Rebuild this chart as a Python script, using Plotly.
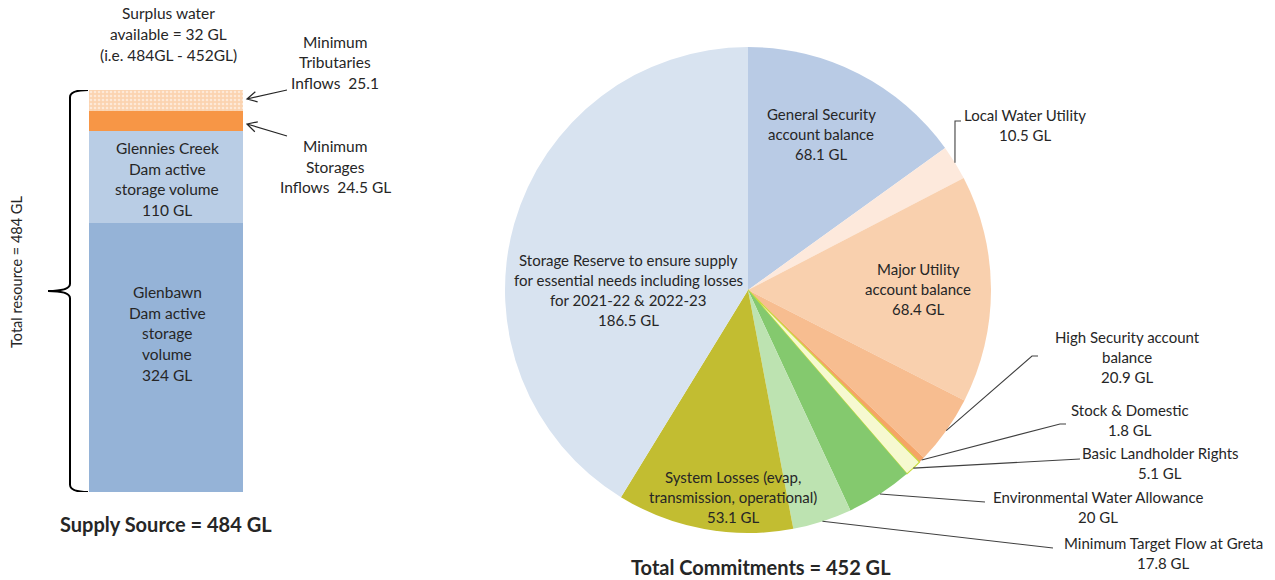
import math
import plotly.graph_objects as go

W, H = 1275, 580
FONT = "Lato"
TXT = "#262626"

# ---------------- data ----------------
supply_names = ["Glenbawn Dam active storage volume",
                "Glennies Creek Dam active storage volume",
                "Minimum Storages Inflows",
                "Minimum Tributaries Inflows"]
supply_values = [324, 110, 24.5, 25.1]
supply_total = 484
commit_total = 452

commit_labels = ["General Security account balance", "Local Water Utility",
                 "Major Utility account balance", "High Security account balance",
                 "Stock & Domestic", "Basic Landholder Rights",
                 "Environmental Water Allowance", "Minimum Target Flow at Greta",
                 "System Losses (evap, transmission, operational)",
                 "Storage Reserve to ensure supply for essential needs including losses for 2021-22 & 2022-23"]
commit_values = [68.1, 10.5, 68.4, 20.9, 1.8, 5.1, 20, 17.8, 53.1, 186.5]

# ---------------- styles ----------------
supply_colors = ["#95b3d7", "#b9cde5", "#f79646", "#fbd3b0"]
commit_colors = ["#b9cbe5", "#fde9dc", "#f9d0ae", "#f7bd90", "#f5a466",
                 "#f6f9d0", "#84c96e", "#bde3b1", "#c2bd31", "#d8e3f0"]

def px(x):
    return x / W

def py(y):
    return 1 - y / H

fig = go.Figure()

# ---------------- stacked supply bar ----------------
bar_top_px, bar_bot_px = 90, 492
bar_left_px, bar_right_px = 89, 243
for i, (n, v, c) in enumerate(zip(supply_names, supply_values, supply_colors)):
    marker = dict(color=c, line=dict(width=0))
    if i == 3:
        marker["pattern"] = dict(shape=".", bgcolor="#fbd3b0", fgcolor="#ffffff",
                                 size=4, solidity=0.35)
    fig.add_trace(go.Bar(x=[0], y=[v], name=n, marker=marker, width=1,
                         showlegend=False, hoverinfo="name+y",
                         xaxis="x", yaxis="y"))

sum_supply = sum(supply_values)

# ---------------- pie ----------------
pc_x, pc_y, pr = 748, 290, 243
line_w = [1.2 if l == "Basic Landholder Rights" else 0 for l in commit_labels]
line_c = ["#c8dc3c" if l == "Basic Landholder Rights" else "white" for l in commit_labels]
fig.add_trace(go.Pie(values=commit_values, labels=commit_labels, sort=False,
                     direction="clockwise", rotation=0, textinfo="none",
                     marker=dict(colors=commit_colors, line=dict(width=line_w, color=line_c)),
                     domain=dict(x=[px(pc_x - pr), px(pc_x + pr)],
                                 y=[py(pc_y + pr), py(pc_y - pr)]),
                     showlegend=False, hoverinfo="label+value"))

annotations = []

def add_lines(cx, y0, lines, size=15, spacing=20.5, bold=False):
    for k, t in enumerate(lines):
        annotations.append(dict(x=px(cx), y=py(y0 + k * spacing), xref="paper", yref="paper",
                                text=f"<b>{t}</b>" if bold else t, showarrow=False,
                                xanchor="center", yanchor="middle",
                                font=dict(family=FONT, size=size, color=TXT)))

# left texts
LS = 15.5
add_lines(168, 13, ["Surplus water", f"available = {supply_total - commit_total} GL",
                    f"(i.e. {supply_total}GL - {commit_total}GL)"], size=LS, spacing=21)
add_lines(335, 42, ["Minimum", "Tributaries", f"Inflows  {supply_values[3]}"], size=LS, spacing=20.5)
add_lines(335, 146, ["Minimum", "Storages", f"Inflows  {supply_values[2]} GL"], size=LS, spacing=20.5)
add_lines(167, 148, ["Glennies Creek", "Dam active", "storage volume", f"{supply_values[1]} GL"], size=LS, spacing=20.7)
add_lines(167, 292, ["Glenbawn", "Dam active", "storage", "volume", f"{supply_values[0]} GL"], size=LS, spacing=20.7)
add_lines(166, 524, [f"Supply Source = {supply_total} GL"], size=20, bold=True)
annotations.append(dict(x=px(16), y=py(272), xref="paper", yref="paper",
                        text=f"Total resource = {supply_total} GL", textangle=-90,
                        showarrow=False, xanchor="center", yanchor="middle",
                        font=dict(family=FONT, size=14.5, color=TXT)))

# pie texts
def fmt(v):
    return f"{v:g} GL"

add_lines(821, 114, ["General Security", "account balance", fmt(commit_values[0])], spacing=20)
add_lines(1025, 115, ["Local Water Utility", fmt(commit_values[1])], spacing=20)
add_lines(918, 269, ["Major Utility", "account balance", fmt(commit_values[2])], spacing=20)
add_lines(1127, 337, ["High Security account", "balance", fmt(commit_values[3])], spacing=20)
add_lines(1130, 410, ["Stock & Domestic", fmt(commit_values[4])], spacing=20)
add_lines(1160, 453, ["Basic Landholder Rights", fmt(commit_values[5])], spacing=20)
add_lines(1098, 497, ["Environmental Water Allowance", fmt(commit_values[6])], spacing=20)
add_lines(1163, 543, ["Minimum Target Flow at Greta", fmt(commit_values[7])], spacing=20)
add_lines(733, 477, ["System Losses (evap,", "transmission, operational)", fmt(commit_values[8])], spacing=20)
add_lines(628, 260, ["Storage Reserve to ensure supply", "for essential needs including losses",
                     "for 2021-22 & 2022-23", fmt(commit_values[9])], spacing=20)
add_lines(761, 567, [f"Total Commitments = {commit_total} GL"], size=20, bold=True)

shapes = []

# leader lines: start at the slice's mid-angle on the pie edge
tot = sum(commit_values)
cum = 0
mid_px = {}
for l, v in zip(commit_labels, commit_values):
    th = math.radians((cum + v / 2) / tot * 360)
    mid_px[l] = (pc_x + pr * math.sin(th), pc_y - pr * math.cos(th))
    cum += v

leaders = {
    "Local Water Utility": [(955, 121), (961, 121)],
    "High Security account balance": [(1032, 356), (1038, 356)],
    "Stock & Domestic": [(1060, 424), (1066, 424)],
    "Basic Landholder Rights": [(1080, 459)],
    "Environmental Water Allowance": [(985, 502)],
    "Minimum Target Flow at Greta": [(1053, 548)],
}
for l, pts in leaders.items():
    sx, sy = mid_px[l]
    path = f"M {px(sx)},{py(sy)} " + " ".join(f"L {px(x)},{py(y)}" for x, y in pts)
    shapes.append(dict(type="path", path=path, xref="paper", yref="paper",
                       line=dict(color="#404040", width=1.1)))

# brace
xv, xe, xt = px(70), px(88), px(48)
top, bot, mid = sum_supply, 0, sum_supply / 2
d = sum_supply * 0.018
brace = (f"M {xe},{top} Q {xv},{top} {xv},{top - d} L {xv},{mid + d} "
         f"Q {xv},{mid} {xt},{mid} Q {xv},{mid} {xv},{mid - d} "
         f"L {xv},{bot + d} Q {xv},{bot} {xe},{bot}")
shapes.append(dict(type="path", path=brace, xref="paper", yref="y",
                   line=dict(color="black", width=2)))

# open-V arrows
def arrow(tail, tip, wing=11, ang=28):
    tx, ty = tail
    hx, hy = tip
    a = math.atan2(ty - hy, tx - hx)
    w1 = (hx + wing * math.cos(a + math.radians(ang)), hy + wing * math.sin(a + math.radians(ang)))
    w2 = (hx + wing * math.cos(a - math.radians(ang)), hy + wing * math.sin(a - math.radians(ang)))
    p = (f"M {px(tx)},{py(ty)} L {px(hx)},{py(hy)} "
         f"M {px(w1[0])},{py(w1[1])} L {px(hx)},{py(hy)} L {px(w2[0])},{py(w2[1])}")
    shapes.append(dict(type="path", path=p, xref="paper", yref="paper",
                       line=dict(color="#262626", width=1.2)))

arrow((287, 90), (247, 99))
arrow((287, 136), (247, 124))

fig.update_layout(
    width=W, height=H,
    margin=dict(l=0, r=0, t=0, b=0),
    paper_bgcolor="white", plot_bgcolor="white",
    barmode="stack", bargap=0,
    xaxis=dict(domain=[px(bar_left_px), px(bar_right_px)], range=[-0.5, 0.5],
               visible=False, fixedrange=True),
    yaxis=dict(domain=[py(bar_bot_px), py(bar_top_px)], range=[0, sum_supply],
               visible=False, fixedrange=True),
    annotations=annotations,
    shapes=shapes,
    font=dict(family=FONT, color=TXT),
)

fig.write_html("out.html", config={"displayModeBar": False},
               post_script="document.body.style.margin='0';document.body.style.overflow='hidden';")
